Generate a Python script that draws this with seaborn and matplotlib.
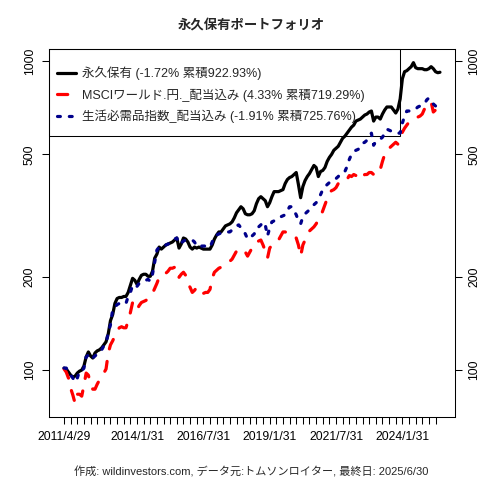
import numpy as np
import matplotlib
matplotlib.use("Agg")
import matplotlib.pyplot as plt
from matplotlib.ticker import FixedLocator, NullLocator
from matplotlib.patches import Rectangle
import seaborn as sns

# monthly values, 2011/4 .. 2025/6
permanent = [
    101.5, 100.8, 98.5, 96.3, 94.9, 95.6, 97.8, 99.2, 100.0, 103.1, 110.3, 114.5,
    111.1, 109.4, 113.6, 115.4, 116.3, 118.0, 120.7, 123.5, 131.1, 144.6, 151.3, 164.4,
    170.6, 171.9, 171.9, 173.2, 173.2, 178.5, 188.2, 198.3, 195.4, 189.6, 196.8, 202.8,
    204.4, 204.4, 201.3, 201.3, 209.0, 230.5, 237.6, 250.4, 246.6, 250.4, 254.2, 256.1,
    258.0, 260.0, 263.9, 267.9, 248.5, 256.1, 267.9, 265.9, 260.0, 250.4, 246.6, 250.4,
    248.5, 250.4, 248.5, 246.6, 246.6, 246.6, 246.6, 254.2, 265.9, 274.0, 280.3, 280.3,
    286.7, 293.3, 295.5, 297.7, 302.2, 311.4, 323.4, 330.8, 338.3, 333.2, 321.0, 318.6,
    318.6, 321.0, 328.3, 346.0, 359.2, 364.7, 359.2, 353.9, 338.3, 348.6, 364.7, 378.7,
    378.7, 378.7, 381.5, 384.4, 402.2, 414.5, 420.7, 423.8, 430.3, 436.8, 399.1, 361.9,
    393.2, 411.4, 423.8, 433.5, 446.7, 460.4, 453.5, 423.8, 440.1, 443.5, 453.5, 474.5,
    489.0, 500.1, 515.5, 523.2, 531.2, 547.4, 564.1, 572.7, 585.8, 599.2, 612.7, 622.0,
    641.1, 645.9, 650.8, 660.6, 670.7, 675.7, 685.9, 691.1, 641.1, 660.6, 660.6, 650.8,
    675.7, 696.3, 712.2, 712.2, 712.2, 696.3, 680.8, 701.6, 756.4, 879.2, 926.7, 933.7,
    947.9, 962.2, 991.6, 954.9, 947.9, 947.9, 947.9, 940.7, 940.7, 947.9, 962.2, 947.9,
    926.7, 919.7, 922.9,
]

msci_world = [
    100.8, 98.5, 94.2, 87.3, 82.9, 78.0, 83.5, 83.5, 82.3, 89.3, 97.8, 96.3,
    90.0, 86.7, 86.7, 90.0, 92.8, 94.9, 97.8, 100.8, 113.6, 120.7, 124.4, 129.3,
    134.1, 137.1, 138.2, 137.1, 137.1, 144.6, 153.6, 165.6, 158.3, 157.1, 161.9, 165.6,
    166.8, 168.1, 170.6, 174.5, 177.2, 184.0, 191.0, 199.8, 199.8, 202.8, 205.9, 209.0,
    213.8, 213.8, 215.4, 215.4, 199.8, 204.4, 207.5, 202.8, 191.0, 185.4, 178.5, 181.3,
    185.4, 182.6, 177.2, 177.2, 178.5, 178.5, 182.6, 198.3, 207.5, 210.6, 213.8, 215.4,
    217.1, 220.3, 222.0, 225.4, 228.8, 235.8, 243.0, 243.0, 244.9, 246.6, 241.2, 234.0,
    241.2, 248.5, 258.0, 260.0, 261.9, 263.9, 254.2, 243.0, 230.5, 248.5, 254.2, 256.1,
    261.9, 263.9, 271.9, 280.3, 280.3, 278.2, 278.2, 274.0, 269.9, 267.9, 254.2, 234.0,
    254.2, 263.9, 271.9, 282.4, 286.7, 291.1, 297.7, 306.8, 313.8, 328.3, 343.4, 359.2,
    376.0, 381.5, 384.4, 390.2, 402.2, 408.3, 408.3, 408.3, 414.5, 427.0, 423.8, 430.3,
    427.0, 414.5, 417.5, 423.8, 430.3, 430.3, 436.8, 436.8, 430.3, 427.0, 433.5, 446.7,
    474.5, 500.1, 519.3, 523.2, 531.2, 539.3, 547.4, 539.3, 559.9, 590.2, 608.1, 622.0,
    636.3, 645.9, 650.8, 655.6, 660.6, 665.6, 675.7, 701.6, 717.5, 733.9, 739.5, 685.9,
    696.3, 712.2, 719.3,
]

staples = [
    101.5, 101.5, 98.5, 96.3, 94.2, 91.4, 94.2, 99.2, 99.2, 101.5, 110.3, 111.9,
    108.6, 109.4, 111.1, 112.8, 113.7, 116.3, 119.8, 122.6, 132.0, 140.3, 157.1, 159.5,
    163.1, 164.4, 165.6, 164.4, 164.4, 173.2, 178.5, 188.2, 185.4, 186.8, 191.0, 192.5,
    194.0, 195.4, 196.8, 194.0, 204.4, 223.7, 244.9, 250.4, 252.3, 254.2, 254.2, 256.1,
    258.0, 263.9, 265.9, 267.9, 256.1, 258.0, 261.9, 263.9, 263.9, 263.9, 263.9, 260.0,
    252.3, 250.4, 252.3, 252.3, 252.3, 250.4, 250.4, 260.0, 271.9, 274.0, 276.1, 278.2,
    278.2, 280.3, 280.3, 280.3, 284.6, 288.9, 293.3, 295.5, 288.9, 284.6, 276.1, 265.9,
    269.9, 271.9, 276.1, 288.9, 291.1, 295.5, 302.2, 295.5, 271.9, 288.9, 302.2, 304.5,
    306.8, 311.4, 313.8, 316.2, 318.6, 328.3, 338.3, 338.3, 328.3, 318.6, 304.5, 297.7,
    313.8, 321.0, 325.8, 330.8, 338.3, 343.4, 348.6, 359.2, 370.2, 384.4, 393.2, 399.1,
    405.3, 408.3, 414.5, 417.5, 423.8, 433.5, 436.8, 440.1, 456.9, 481.6, 500.1, 511.6,
    515.5, 519.3, 527.2, 543.3, 547.4, 555.7, 568.4, 585.8, 535.3, 551.6, 555.7, 559.9,
    568.4, 585.8, 603.6, 599.2, 594.7, 590.2, 590.2, 585.8, 585.8, 631.6, 665.6, 691.1,
    691.1, 696.3, 696.3, 701.6, 712.2, 717.5, 722.9, 728.4, 750.7, 762.0, 745.1, 728.4,
    717.5, 722.9, 725.8,
]

labels = [
    "永久保有 (-1.72% 累積922.93%)",
    "MSCIワールド.円._配当込み (4.33% 累積719.29%)",
    "生活必需品指数_配当込み (-1.91% 累積725.76%)",
]
date_labels = ["2011/4/29", "2014/1/31", "2016/7/31", "2019/1/31", "2021/7/31", "2024/1/31"]
date_label_idx = [0, 33, 63, 93, 123, 153]
y_ticks = [100, 200, 500, 1000]
title = "永久保有ポートフォリオ"
caption = "作成: wildinvestors.com, データ元:トムソンロイター, 最終日: 2025/6/30"

sns.set_style("ticks")
plt.rcParams["font.family"] = ["Liberation Sans", "Noto Sans CJK JP", "DejaVu Sans"]

fig = plt.figure(figsize=(4.8, 4.8), dpi=100)
ax = fig.add_axes([49 / 480, 63 / 480, 406 / 480, 368 / 480])

x = np.arange(len(permanent))
lw = 2.3
sns.lineplot(x=x, y=permanent, ax=ax, color="black", lw=lw, label=labels[0])
sns.lineplot(x=x, y=msci_world, ax=ax, color="#ff0000", lw=lw, label=labels[1])
sns.lineplot(x=x, y=staples, ax=ax, color="#00008b", lw=lw, label=labels[2])
lines = ax.get_lines()
lines[0].set_solid_capstyle("round")
lines[1].set_linestyle((0, (3.2, 4.0)))
lines[1].set_dash_capstyle("round")
lines[2].set_linestyle((0, (0.9, 2.8)))
lines[2].set_dash_capstyle("round")

ax.set_yscale("log")
allv = np.log10(np.concatenate([permanent, msci_world, staples]))
lo, hi = allv.min(), allv.max()
pad = (hi - lo) * 0.04
ax.set_ylim(10 ** (lo - pad), 10 ** (hi + pad))
ax.set_xlim(-0.04 * (len(x) - 1), (len(x) - 1) * 1.04)

ax.yaxis.set_major_locator(FixedLocator(y_ticks))
ax.yaxis.set_minor_locator(NullLocator())
ax.set_yticklabels([str(v) for v in y_ticks])
ax.set_xticks(np.arange(0, len(x), 3))
xt = [""] * len(ax.get_xticks())
for i, lab in zip(date_label_idx, date_labels):
    xt[i // 3] = lab
ax.set_xticklabels(xt)

ax.tick_params(axis="both", length=5, width=0.75, color="black", labelsize=8.7,
               labelcolor="black", direction="out")
ax.tick_params(axis="x", pad=5)
ax.tick_params(axis="y", right=True, labelright=True, labelrotation=90, pad=4.5)
for tk in ax.yaxis.get_major_ticks():
    tk.label1.set_va("center")
    tk.label2.set_va("center")

for s in ax.spines.values():
    s.set_visible(True)
    s.set_color("black")
    s.set_linewidth(0.75)

ax.set_xlabel("")
ax.set_ylabel("")

# legend entries without frame, box drawn separately like R's legend()
leg = ax.legend(loc="upper left", bbox_to_anchor=(0, 1 - 10 / 368), borderaxespad=0,
                frameon=False, handlelength=1.55, handletextpad=0.5, borderpad=0.6,
                labelspacing=0.63, fontsize=9)
box_h = (136 - 49) / 368
ax.add_patch(Rectangle((0, 1 - box_h), 351 / 406, box_h, transform=ax.transAxes,
                       fill=False, edgecolor="black", lw=0.75, clip_on=False, zorder=1))

fig.text(251 / 480, 1 - 26 / 480, title, ha="center", va="center", fontsize=9.6,
         fontweight="bold")
fig.text(251 / 480, 1 - 472 / 480, caption, ha="center", va="center", fontsize=8)

fig.savefig("out.png", dpi=100)
